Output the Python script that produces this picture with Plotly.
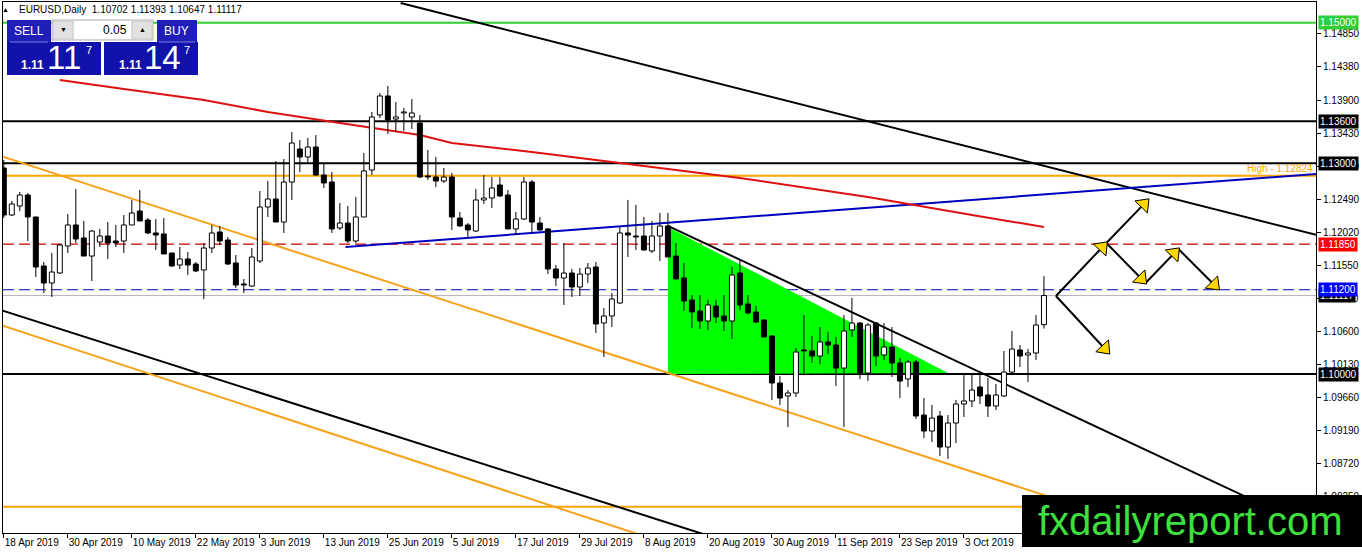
import math
import plotly.graph_objects as go

# ---------------- data ----------------
opens = [1.12933, 1.12264, 1.12392, 1.12549, 1.12236, 1.11538, 1.11296, 1.11438, 1.11823, 1.12122,
         1.11937, 1.11680, 1.11880, 1.11965, 1.11894, 1.11894, 1.12122, 1.12321, 1.12193, 1.12008,
         1.11994, 1.11723, 1.11552, 1.11638, 1.11566, 1.11481, 1.11794, 1.12022, 1.11908, 1.11581,
         1.11282, 1.11253, 1.11609, 1.12378, 1.12492, 1.12164, 1.12734, 1.13204, 1.13090, 1.13232,
         1.12834, 1.12734, 1.12079, 1.12150, 1.11894, 1.12236, 1.12905, 1.13688, 1.13959, 1.13631,
         1.13717, 1.13660, 1.13574, 1.12820, 1.12805, 1.12748, 1.12805, 1.12221, 1.12122, 1.12036,
         1.12478, 1.12506, 1.12691, 1.12549, 1.12065, 1.12207, 1.12734, 1.12150, 1.12065, 1.11495,
         1.11367, 1.11438, 1.11239, 1.11424, 1.11524, 1.10726, 1.10826, 1.11011, 1.12008, 1.11965,
         1.11965, 1.11752, 1.11965, 1.12108, 1.11680, 1.11367, 1.11054, 1.10897, 1.10755, 1.10968,
         1.10826, 1.10755, 1.11438, 1.10997, 1.10883, 1.10769, 1.10541, 1.09872, 1.09687, 1.09729,
         1.10342, 1.10328, 1.10256, 1.10456, 1.10413, 1.10085, 1.10627, 1.10726, 1.10014, 1.10726,
         1.10271, 1.10384, 1.10157, 1.09929, 1.10171, 1.09416, 1.09188, 1.09402, 1.08960, 1.09302,
         1.09573, 1.09616, 1.09815, 1.09701, 1.09544, 1.09687, 1.10028, 1.10342, 1.10271, 1.10299,
         1.10702]
highs = [1.13047, 1.12464, 1.12592, 1.12577, 1.12236, 1.11595, 1.11723, 1.11851, 1.12278, 1.12634,
         1.12179, 1.12051, 1.12065, 1.12164, 1.12122, 1.12264, 1.12478, 1.12620, 1.12221, 1.12207,
         1.12221, 1.11723, 1.11808, 1.11737, 1.11595, 1.11865, 1.12122, 1.12108, 1.11951, 1.11695,
         1.11353, 1.11794, 1.12606, 1.12748, 1.13033, 1.13062, 1.13446, 1.13332, 1.13361, 1.13403,
         1.13005, 1.12876, 1.12435, 1.12392, 1.12520, 1.13147, 1.13731, 1.14001, 1.14101, 1.13873,
         1.13788, 1.13916, 1.13688, 1.13190, 1.13090, 1.12933, 1.12862, 1.12307, 1.12150, 1.12634,
         1.12834, 1.12805, 1.12805, 1.12620, 1.12307, 1.12805, 1.12763, 1.12236, 1.12079, 1.11552,
         1.11865, 1.11495, 1.11509, 1.11581, 1.11595, 1.10940, 1.11153, 1.12093, 1.12478, 1.12407,
         1.12236, 1.12179, 1.12293, 1.12293, 1.11865, 1.11581, 1.11125, 1.11125, 1.11054, 1.11054,
         1.11125, 1.11524, 1.11623, 1.11125, 1.10968, 1.10783, 1.10555, 1.09972, 1.09772, 1.10370,
         1.10840, 1.10541, 1.10669, 1.10598, 1.10527, 1.10840, 1.11082, 1.10740, 1.10726, 1.10740,
         1.10726, 1.10669, 1.10228, 1.10199, 1.10199, 1.09658, 1.09559, 1.09473, 1.09416, 1.09630,
         1.09986, 1.09986, 1.10014, 1.09943, 1.09858, 1.10328, 1.10612, 1.10413, 1.10356, 1.10840,
         1.11393]
lows = [1.12221, 1.12250, 1.12321, 1.11894, 1.11381, 1.11153, 1.11096, 1.11424, 1.11723, 1.11865,
        1.11680, 1.11324, 1.11808, 1.11638, 1.11808, 1.11723, 1.12122, 1.12179, 1.11994, 1.11766,
        1.11709, 1.11524, 1.11495, 1.11410, 1.11452, 1.11068, 1.11723, 1.11837, 1.11552, 1.11225,
        1.11153, 1.11239, 1.11581, 1.12236, 1.12164, 1.12008, 1.12478, 1.12876, 1.13005, 1.12820,
        1.12649, 1.12008, 1.12051, 1.11865, 1.11865, 1.12236, 1.12834, 1.13645, 1.13418, 1.13446,
        1.13460, 1.13489, 1.12791, 1.12763, 1.12663, 1.12720, 1.12051, 1.12093, 1.11937, 1.12022,
        1.12421, 1.12364, 1.12520, 1.12065, 1.11979, 1.12193, 1.12008, 1.12036, 1.11424, 1.11253,
        1.10983, 1.11096, 1.11111, 1.11296, 1.10584, 1.10242, 1.10669, 1.10997, 1.11666, 1.11766,
        1.11752, 1.11723, 1.11609, 1.11666, 1.11353, 1.10897, 1.10655, 1.10641, 1.10627, 1.10726,
        1.10612, 1.10498, 1.10911, 1.10854, 1.10726, 1.10527, 1.09630, 1.09559, 1.09245, 1.09672,
        1.10014, 1.10157, 1.10142, 1.10285, 1.09829, 1.09245, 1.10527, 1.09929, 1.09900, 1.10114,
        1.10199, 1.09957, 1.09658, 1.09815, 1.09359, 1.09089, 1.09032, 1.08832, 1.08790, 1.09017,
        1.09388, 1.09530, 1.09573, 1.09388, 1.09487, 1.09672, 1.10014, 1.10100, 1.09886, 1.10199,
        1.10647]
closes = [1.12264, 1.12421, 1.12549, 1.12236, 1.11524, 1.11296, 1.11452, 1.11837, 1.12122, 1.11922,
          1.11680, 1.12036, 1.11965, 1.11865, 1.11865, 1.12122, 1.12293, 1.12179, 1.12008, 1.11979,
          1.11709, 1.11538, 1.11638, 1.11552, 1.11467, 1.11794, 1.12008, 1.11894, 1.11566, 1.11267,
          1.11267, 1.11666, 1.12378, 1.12492, 1.12164, 1.12734, 1.13289, 1.13090, 1.13232, 1.12834,
          1.12720, 1.12065, 1.12150, 1.11894, 1.12236, 1.12891, 1.13660, 1.13959, 1.13617, 1.13660,
          1.13731, 1.13717, 1.12805, 1.12805, 1.12748, 1.12805, 1.12236, 1.12108, 1.12051, 1.12478,
          1.12506, 1.12649, 1.12535, 1.12065, 1.12207, 1.12734, 1.12164, 1.12051, 1.11495, 1.11367,
          1.11438, 1.11239, 1.11424, 1.11509, 1.10712, 1.10826, 1.11068, 1.12008, 1.11979, 1.11951,
          1.11766, 1.11965, 1.12108, 1.11666, 1.11353, 1.11040, 1.10883, 1.10755, 1.10983, 1.10812,
          1.10755, 1.11410, 1.10983, 1.10869, 1.10740, 1.10527, 1.09872, 1.09658, 1.09729, 1.10313,
          1.10328, 1.10256, 1.10456, 1.10413, 1.10085, 1.10612, 1.10726, 1.10014, 1.10698, 1.10256,
          1.10384, 1.10157, 1.09900, 1.10171, 1.09402, 1.09188, 1.09373, 1.08960, 1.09302, 1.09573,
          1.09616, 1.09772, 1.09687, 1.09544, 1.09701, 1.10028, 1.10356, 1.10256, 1.10299, 1.10698,
          1.11117]

date_tick_bars = [0, 8, 16, 24, 32, 40, 48, 56, 64, 72, 80, 88, 96, 104, 112, 120]
date_tick_labels = ["18 Apr 2019", "30 Apr 2019", "10 May 2019", "22 May 2019", "3 Jun 2019",
                    "13 Jun 2019", "25 Jun 2019", "5 Jul 2019", "17 Jul 2019", "29 Jul 2019",
                    "8 Aug 2019", "20 Aug 2019", "30 Aug 2019", "11 Sep 2019", "23 Sep 2019",
                    "3 Oct 2019"]
price_ticks = [1.08250, 1.08720, 1.09190, 1.09660, 1.10130, 1.10600, 1.11080, 1.11550,
               1.12020, 1.12490, 1.12960, 1.13430, 1.13900, 1.14380, 1.14850]

# moving average (red), sampled along the drawn curve
ma_bars = [7, 15, 25, 33, 42, 52, 56, 66, 92, 108, 121, 130]
ma_prices = [1.14187, 1.14058, 1.13902, 1.13731, 1.13574, 1.13403, 1.13289, 1.13161,
             1.12791, 1.12520, 1.12264, 1.12093]

# horizontal levels
level_green = 1.15000
level_black = [1.13600, 1.13000, 1.10000]
level_high = 1.12824
level_orange_low = 1.08110
level_red = 1.11850
level_blue = 1.11200
level_bid = 1.11117

# trend lines: (bar, price) end points
blue_tl_bars, blue_tl_prices = [42.7, 164.1], [1.11808, 1.12848]
black_top_bars, black_top_prices = [49.6, 164.1], [1.15283, 1.11979]
black_tri_bars, black_tri_prices = [83, 164.1], [1.12108, 1.07779]
black_low_bars, black_low_prices = [-0.41, 87.8], [1.10911, 1.07707]
orange_up_bars, orange_up_prices = [-0.41, 164.1], [1.13104, 1.07014]
orange_low_bars, orange_low_prices = [-0.41, 79.6], [1.10698, 1.07707]

# green triangle
tri_bars = [83, 83, 118]
tri_prices = [1.12093, 1.10000, 1.10014]

# projection arrows
arrow_bars = [131.5, 137.8, 143.0, 142.7, 146.8, 151.8, 138.1]
arrow_prices = [1.11111, 1.11866, 1.12479, 1.11296, 1.11781, 1.11211, 1.10299]
arrow_from = [0, 1, 1, 3, 4, 0]
arrow_to = [1, 2, 3, 4, 5, 6]

# ---------------- geometry helpers ----------------
PX_L, PX_R, PX_T, PX_B = 3, 1316, 2, 533
X_RANGE = [-0.1, 164.0]
Y_RANGE = [1.07736, 1.15297]
FONT = "Liberation Sans, Arial, sans-serif"


def px(x):
    return (x - PX_L) / (PX_R - PX_L)


def py(y):
    return (PX_B - y) / (PX_B - PX_T)


sx = (PX_R - PX_L) / (X_RANGE[1] - X_RANGE[0])
sy = (PX_B - PX_T) / (Y_RANGE[1] - Y_RANGE[0])

fig = go.Figure()

# ---------------- candles ----------------
wick_x, wick_y = [], []
body_x, body_base, body_len, body_col = [], [], [], []
for i, (o, h, l, c) in enumerate(zip(opens, highs, lows, closes)):
    top, bot = max(o, c), min(o, c)
    wick_x += [i, i, None, i, i, None]
    wick_y += [top, h, None, l, bot, None]
    body_x.append(i)
    body_base.append(bot)
    body_len.append(max(top - bot, 0.00002))
    body_col.append("white" if c > o else "black")

fig.add_trace(go.Bar(x=body_x, y=body_len, base=body_base, width=0.62,
                     marker=dict(color=body_col, line=dict(color="black", width=1)),
                     hoverinfo="skip"))
fig.add_trace(go.Scatter(x=wick_x, y=wick_y, mode="lines",
                         line=dict(color="black", width=1), hoverinfo="skip"))

# ---------------- arrows ----------------
seg_x, seg_y = [], []
head_x, head_y, head_ang = [], [], []
for a, b in zip(arrow_from, arrow_to):
    b0, p0, b1, p1 = arrow_bars[a], arrow_prices[a], arrow_bars[b], arrow_prices[b]
    seg_x += [b0, b1, None]
    seg_y += [p0, p1, None]
    dx, dy = (b1 - b0) * sx, (p1 - p0) * sy
    n = math.hypot(dx, dy)
    ux, uy = dx / n, dy / n
    head_x.append(b1 - 6 * ux / sx)
    head_y.append(p1 - 6 * uy / sy)
    head_ang.append(math.degrees(math.atan2(ux, uy)))

fig.add_trace(go.Scatter(x=seg_x, y=seg_y, mode="lines",
                         line=dict(color="black", width=2), hoverinfo="skip"))
fig.add_trace(go.Scatter(x=head_x, y=head_y, mode="markers",
                         marker=dict(symbol="triangle-up", size=15, color="#ffd700",
                                     angle=head_ang, line=dict(color="black", width=1)),
                         hoverinfo="skip"))

# ---------------- lines behind candles ----------------
shapes = []


def hline(p, color, width, dash="solid"):
    shapes.append(dict(type="line", xref="paper", x0=0, x1=1, yref="y", y0=p, y1=p,
                       line=dict(color=color, width=width, dash=dash), layer="below"))


def tline(bars, prices, color, width=2):
    shapes.append(dict(type="line", xref="x", yref="y", x0=bars[0], y0=prices[0],
                       x1=bars[1], y1=prices[1], line=dict(color=color, width=width),
                       layer="below"))


# green triangle
tri_path = "M {} {} L {} {} L {} {} Z".format(tri_bars[0], tri_prices[0], tri_bars[1],
                                              tri_prices[1], tri_bars[2], tri_prices[2])
shapes.append(dict(type="path", xref="x", yref="y", path=tri_path, fillcolor="#00ff00",
                   line=dict(width=0), layer="below"))

hline(level_green, "#33cc33", 2)
for p in level_black:
    hline(p, "black", 2)
hline(level_high, "#ffa500", 2)
hline(level_orange_low, "#ffa500", 2)
hline(level_red, "#c80000", 1.2, "11px,5px")
hline(level_blue, "#0000b4", 1.2, "11px,5px")
hline(level_bid, "#b4b4b4", 1)

tline(orange_up_bars, orange_up_prices, "#f7a21b")
tline(orange_low_bars, orange_low_prices, "#f7a21b")
tline(black_low_bars, black_low_prices, "black")
tline(black_top_bars, black_top_prices, "black")
tline(black_tri_bars, black_tri_prices, "black")
tline(blue_tl_bars, blue_tl_prices, "#0000c0")

ma_path = "M " + " L ".join("{} {}".format(b, p) for b, p in zip(ma_bars, ma_prices))
shapes.append(dict(type="path", xref="x", yref="y", path=ma_path,
                   line=dict(color="#dd1111", width=2), layer="below"))

# ---------------- overlay boxes (trade panel, logo) ----------------


def box(x0, y0, x1, y1, fill, line_color=None):
    shapes.append(dict(type="rect", xref="paper", yref="paper", x0=px(x0), x1=px(x1),
                       y0=py(y1), y1=py(y0), fillcolor=fill,
                       line=dict(color=line_color or fill, width=1 if line_color else 0),
                       layer="above"))


box(7, 20, 51, 42, "#1f1fb8")
box(52, 20, 153, 40, "#f0f0f0", "#b4b4b4")
box(53, 21, 73, 39, "#e1e1e1", "#c8c8c8")
box(74, 21, 131, 39, "white")
box(132, 21, 152, 39, "#e1e1e1", "#c8c8c8")
box(157, 20, 197, 42, "#1f1fb8")
box(7, 42, 101, 75, "#1212aa")
box(104, 42, 198, 75, "#1212aa")
for xa, xb in [(10, 48), (159, 195)]:
    shapes.append(dict(type="line", xref="paper", yref="paper", x0=px(xa), x1=px(xb),
                       y0=py(42), y1=py(42), line=dict(color="#7a7ae6", width=1),
                       layer="above"))
box(1022, 495, 1362, 547, "black")

# ---------------- annotations ----------------
ann = []


def text(x, y, s, size, color="black", xanchor="center"):
    ann.append(dict(xref="paper", yref="paper", x=px(x), y=py(y), text=s,
                    showarrow=False, xanchor=xanchor, yanchor="middle",
                    font=dict(family=FONT, size=size, color=color)))


text(5, 9, "▲", 7)
text(17, 9, "EURUSD,Daily\u00a0 1.10702 1.11393 1.10647 1.11117", 10, xanchor="left")
text(29, 31, "SELL", 12, "white")
text(176, 31, "BUY", 12, "white")
text(63, 30, "▼", 7)
text(142, 30, "▲", 7)
text(129, 30, "0.05", 12, xanchor="right")
text(32, 65, "<b>1.11</b>", 12, "white")
text(64, 58, "11", 33, "white")
text(89, 50, "7", 11, "white")
text(130, 65, "<b>1.11</b>", 12, "white")
text(162, 58, "14", 33, "white")
text(187, 50, "7", 11, "white")

price_labels = [(level_green, "#33cc33"), (level_black[0], "black"), (level_black[1], "black"),
                (level_red, "#ff0000"), (level_bid, "black"), (level_blue, "#0000ff"),
                (level_black[2], "black")]
for p, bg in price_labels:
    ann.append(dict(xref="paper", yref="y", x=1, y=p, xanchor="left", yanchor="middle",
                    xshift=2, text="{:.5f}".format(p), showarrow=False, bgcolor=bg,
                    borderpad=1, font=dict(family=FONT, size=10, color="white")))

ann.append(dict(xref="paper", yref="y", x=1, y=level_high, xanchor="right", yanchor="bottom",
                xshift=-1, text="High - {:.5f}".format(level_high), showarrow=False,
                font=dict(family=FONT, size=10, color="#ffa500")))

text(1190, 521, "fxdailyreport.com", 40, "#3ee03e")

fig.update_layout(
    width=1362, height=554,
    margin=dict(l=PX_L, r=1362 - PX_R, t=PX_T, b=554 - PX_B, autoexpand=False),
    paper_bgcolor="white", plot_bgcolor="white",
    showlegend=False, hovermode=False,
    font=dict(family=FONT, size=10, color="black"),
    shapes=shapes, annotations=ann,
    xaxis=dict(range=X_RANGE, tickvals=date_tick_bars, ticktext=date_tick_labels,
               ticks="outside", ticklen=4, tickcolor="black", ticklabelposition="outside right",
               tickangle=0, automargin=False,
               showgrid=False, zeroline=False, showline=True, linecolor="black",
               linewidth=1, mirror=True, tickfont=dict(family=FONT, size=10)),
    yaxis=dict(range=Y_RANGE, side="right", tickvals=price_ticks,
               ticktext=["{:.5f}".format(v) for v in price_ticks],
               ticks="outside", ticklen=4, tickcolor="black", automargin=False,
               showgrid=False, zeroline=False, showline=True, linecolor="black",
               linewidth=1, mirror=True, tickfont=dict(family=FONT, size=10)),
)

# the page would otherwise add the browser's default 8px body margin
fig.write_html("out.html", config={"displayModeBar": False},
               post_script="document.body.style.margin='0';")
